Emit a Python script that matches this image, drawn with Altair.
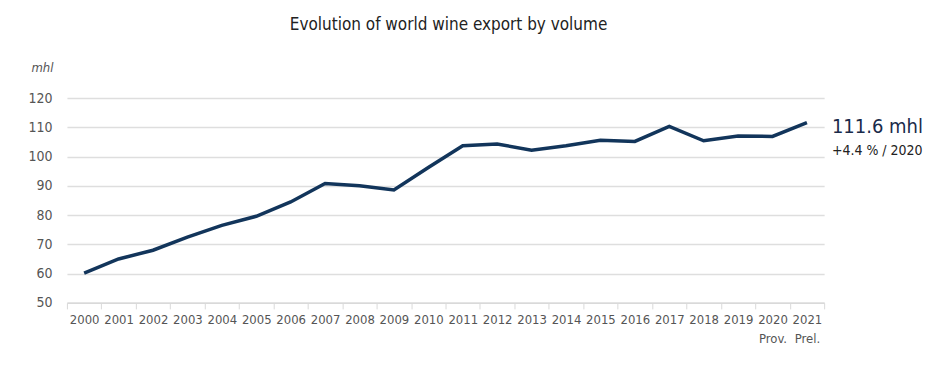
import altair as alt
import pandas as pd

years = [str(y) for y in range(2000, 2022)]
volumes = [60.2, 65.0, 68.0, 72.5, 76.5, 79.6, 84.5, 90.8, 90.0, 88.6, 96.3,
           103.7, 104.3, 102.2, 103.7, 105.6, 105.2, 110.3, 105.4, 107.0, 106.9, 111.6]
y_ticks = [50, 60, 70, 80, 90, 100, 110, 120]
last_label = "111.6 mhl"
last_change = "+4.4 % / 2020"
title_text = "Evolution of world wine export by volume"

FONT = "DejaVu Sans Condensed"
NAVY = "#12355b"

df = pd.DataFrame({"year": years, "volume": volumes})
last = df.tail(1).assign(lab=last_label, chg=last_change)
ttl = pd.DataFrame({"t": [title_text]})

x = alt.X("year:O", title=None, sort=years,
          scale=alt.Scale(paddingInner=0, paddingOuter=0),
          axis=alt.Axis(labelAngle=0, labelFont=FONT, labelFontSize=13, labelColor="#555555",
                        domainColor="#d9d9d9", domainWidth=1.5, tickColor="#d9d9d9",
                        tickSize=6, tickWidth=1, tickBand="extent", labelPadding=5,
                        labelOverlap=False,
                        labelExpr="datum.value == '2020' ? ['2020', 'Prov.'] : datum.value == '2021' ? ['2021', 'Prel.'] : datum.value",
                        labelLineHeight=19, grid=False))
y = alt.Y("volume:Q", scale=alt.Scale(domain=[50, 120], nice=False, zero=False),
          axis=alt.Axis(values=y_ticks, tickCount=8, title="mhl", titleAngle=0, titleFont=FONT,
                        titleFontStyle="italic", titleFontWeight="normal", titleFontSize=13,
                        titleColor="#555555", titleX=-25, titleY=-24, titleAlign="center",
                        labelFont=FONT, labelFontSize=14, labelColor="#555555",
                        labelOverlap=False, labelPadding=15, ticks=False, domain=False,
                        gridColor="#dedede", gridWidth=1.5))

line = alt.Chart(df).mark_line(color=NAVY, strokeWidth=3.5).encode(x=x, y=y)

big = alt.Chart(last).mark_text(align="left", baseline="alphabetic", dx=25, dy=10,
                                font=FONT, fontSize=20, color="#1a2b4a").encode(
    x=x, y=y, text="lab:N")
small = alt.Chart(last).mark_text(align="left", baseline="alphabetic", dx=25, dy=32,
                                  font=FONT, fontSize=14, color="#222222").encode(
    x=x, y=y, text="chg:N")
title = alt.Chart(ttl).mark_text(align="center", baseline="alphabetic", font=FONT,
                                 fontSize=17, color="#222222").encode(
    x=alt.value(382), y=alt.value(-68), text="t:N")

chart = alt.layer(line, big, small, title).properties(
    width=758, height=205,
    autosize=alt.AutoSizeParams(type="none"),
    padding={"left": 59, "top": 90, "right": 120, "bottom": 60},
).configure_view(stroke=None)

chart.save("out.html", embed_options={"renderer": "svg", "actions": False})
